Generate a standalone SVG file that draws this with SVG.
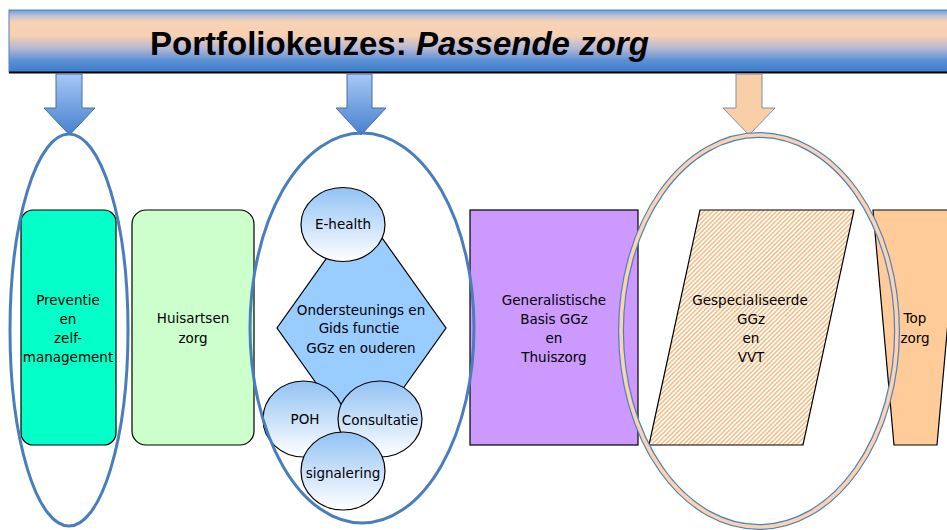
<svg xmlns="http://www.w3.org/2000/svg" width="947" height="530" viewBox="0 0 947 530">
<defs>
<linearGradient id="banner" x1="0" y1="0" x2="0" y2="1">
<stop offset="0" stop-color="#6a9be0"/>
<stop offset="0.1" stop-color="#c8c4d2"/>
<stop offset="0.2" stop-color="#f8d3b3"/>
<stop offset="0.42" stop-color="#f6d0b3"/>
<stop offset="0.62" stop-color="#b3b7d4"/>
<stop offset="0.82" stop-color="#5a8fd5"/>
<stop offset="1" stop-color="#3b7fcb"/>
</linearGradient>
<linearGradient id="arrowBlue" x1="0" y1="0" x2="0" y2="1">
<stop offset="0" stop-color="#a6c8f7"/>
<stop offset="1" stop-color="#4780cc"/>
</linearGradient>
<linearGradient id="bubble" x1="0" y1="0" x2="0" y2="1">
<stop offset="0" stop-color="#92c2f4"/>
<stop offset="1" stop-color="#ffffff"/>
</linearGradient>
<pattern id="hatch" width="3.2" height="3.2" patternUnits="userSpaceOnUse" patternTransform="rotate(45)">
<rect width="3.2" height="3.2" fill="#ffffff"/>
<line x1="0.8" y1="0" x2="0.8" y2="3.2" stroke="#f8c089" stroke-width="1.6"/>
</pattern>
<style>
.lbl{font-family:"DejaVu Sans","Liberation Sans",sans-serif;font-size:13.5px;fill:#000;text-anchor:middle}
.box{stroke:#000;stroke-width:1.2}
.bub{fill:url(#bubble);stroke:#000;stroke-width:1.2}
.ring{fill:none;stroke:#4a7ebb;stroke-width:3}
</style>
</defs>
<rect width="947" height="530" fill="#ffffff"/>

<g id="banner">
<rect x="9" y="10" width="945" height="62" fill="url(#banner)" stroke="#4f81bd" stroke-width="1"/>
<line x1="9" y1="72.5" x2="947" y2="72.5" stroke="#000" stroke-width="2"/>
<text x="150" y="55" font-family="Liberation Sans, Arial, sans-serif" font-size="33" font-weight="bold" fill="#000">Portfoliokeuzes: <tspan font-style="italic">Passende zorg</tspan></text>
</g>

<g id="connectors">
<polygon points="56,74 82,74 82,108 95,108 69.5,135 44,108 56,108" fill="url(#arrowBlue)" stroke="#4a6e9e" stroke-width="1"/>
<polygon points="347,74 372,74 372,108 386,108 361,135 336,108 347,108" fill="url(#arrowBlue)" stroke="#4a6e9e" stroke-width="1"/>
<polygon points="736,74 762,74 762,108 775,108 749,135 723,108 736,108" fill="#f9cfa8" stroke="#7d8fae" stroke-width="1"/>
</g>

<g id="preventie">
<rect class="box" x="21" y="210" width="95" height="235" rx="12" fill="#05ffc9"/>
<text class="lbl" x="68" y="305">Preventie</text>
<text class="lbl" x="68" y="324">en</text>
<text class="lbl" x="68" y="343">zelf-</text>
<text class="lbl" x="68" y="362">management</text>
</g>

<g id="huisartsen">
<rect class="box" x="132" y="210" width="122" height="235" rx="14" fill="#ccffcc"/>
<text class="lbl" x="193" y="323">Huisartsen</text>
<text class="lbl" x="193" y="343">zorg</text>
</g>

<g id="ondersteuning">
<polygon class="box" points="361.5,209 446,328 361.5,447 277,328" fill="#99ccff"/>
<text class="lbl" x="361" y="315">Ondersteunings en</text>
<text class="lbl" x="359" y="333">Gids functie</text>
<text class="lbl" x="361" y="353">GGz en ouderen</text>
</g>

<g id="ehealth">
<ellipse class="bub" cx="343" cy="224.5" rx="42" ry="37"/>
<text class="lbl" x="343" y="229">E-health</text>
</g>

<g id="poh">
<ellipse class="bub" cx="303.5" cy="419" rx="40.5" ry="38"/>
<text class="lbl" x="305" y="424">POH</text>
</g>

<g id="consultatie">
<ellipse class="bub" cx="380" cy="419" rx="42" ry="38"/>
<text class="lbl" x="380" y="425">Consultatie</text>
</g>

<g id="signalering">
<ellipse class="bub" cx="343" cy="471" rx="42" ry="39"/>
<text class="lbl" x="343" y="478">signalering</text>
</g>

<g id="generalistisch">
<rect class="box" x="470" y="210" width="168" height="235" fill="#cc99ff"/>
<text class="lbl" x="554" y="305">Generalistische</text>
<text class="lbl" x="554" y="324">Basis GGz</text>
<text class="lbl" x="554" y="343">en</text>
<text class="lbl" x="554" y="362">Thuiszorg</text>
</g>

<g id="gespecialiseerd">
<polygon class="box" points="700,210 854,210 803,445 649,445" fill="url(#hatch)"/>
<text class="lbl" x="750" y="305">Gespecialiseerde</text>
<text class="lbl" x="751" y="324">GGz</text>
<text class="lbl" x="751" y="343">en</text>
<text class="lbl" x="751" y="362">VVT</text>
</g>

<g id="topzorg">
<polygon class="box" points="873,210 958,210 937,445 894,445" fill="#ffcc99"/>
<text class="lbl" x="915" y="323">Top</text>
<text class="lbl" x="915" y="343">zorg</text>
</g>

<g id="groups">
<ellipse class="ring" cx="69" cy="330" rx="59" ry="196"/>
<ellipse class="ring" cx="362" cy="328" rx="112" ry="195"/>
<ellipse cx="759" cy="331" rx="138" ry="196" fill="none" stroke="#4f81bd" stroke-width="6"/>
<ellipse cx="759" cy="331" rx="138" ry="196" fill="none" stroke="#fbd3b0" stroke-width="3.6"/>
</g>
</svg>
